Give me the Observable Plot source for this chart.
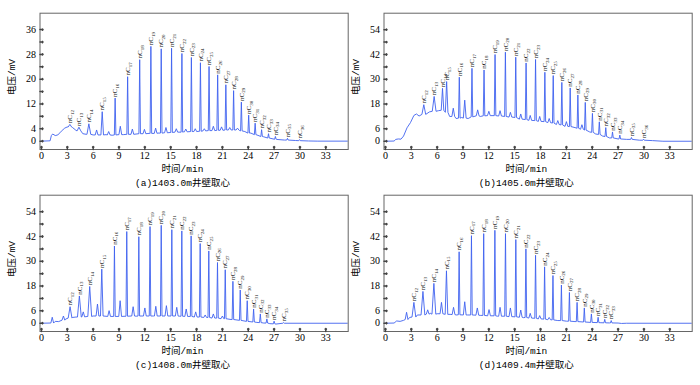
<!DOCTYPE html>
<html><head><meta charset="utf-8">
<script src="https://cdn.jsdelivr.net/npm/d3@7"></script>
<script src="https://cdn.jsdelivr.net/npm/@observablehq/plot@0.6"></script>
<style>
body{margin:0;background:#fff;}
#wrap{position:relative;width:700px;height:385px;overflow:hidden;background:#fff;}
.panel{position:absolute;}
.t{position:absolute;white-space:nowrap;transform:translate(-50%,-50%);font-size:9.5px;color:#000;line-height:1;}
.yt{transform:translate(-50%,-50%) rotate(-90deg);}
.cjk{font-family:"Noto Sans CJK SC";}
.lat{font-family:"Liberation Mono";}
</style></head><body><div id="wrap"></div>
<script>
// ---- shared ----
const xTicks = [0,3,6,9,12,15,18,21,24,27,30,33];
const aYTicks = [0,4,8,12,16,20,24,28,32,36];
const aYLabels = [0,4,12,20,28,36];
const bYTicks = [0,6,12,18,24,30,36,42,48,54];
const bYLabels = [0,6,18,30,42,54];
const captions = ["(a)1403.0m", "(b)1405.0m", "(c)1408.0m", "(d)1409.4m"];
const captionTail = "井壁取心";
const xTitle = ["时间", "/min"];
const yTitle = ["电压", "/mV"];

// ---- (a) 1403.0 m ----
const aHumpT = [0,1.0,1.15,1.3,1.6,1.9,2.3,2.7,3.0,3.6,4.0,4.8,5.2,6.0,6.8,7.5,8.2,9.5,10.5,11.5,12.5,13.5,14.5,15.5,16.5,17.5,18.5,19.5,20.5,21.5,22.3,23.0,23.6,24.3,25.0,25.8,26.5,27.3,28.2,29.5,31.0,32.0,35.6];
const aHumpV = [0,0.1,1.8,2.3,1.8,2.0,3.2,4.2,4.6,4.4,3.5,2.4,2.2,2.0,2.0,2.1,1.9,2.1,2.2,2.4,2.5,2.6,2.8,2.9,3.0,3.1,3.2,3.4,3.5,3.6,3.6,3.4,3.1,2.6,2.0,1.4,0.9,0.55,0.35,0.2,0.05,0,0];
const aPeakT = [3.3,4.35,5.5,7.05,8.55,10.0,11.4,12.7,13.9,15.1,16.3,17.4,18.45,19.45,20.45,21.4,22.3,23.2,24.05,24.8,25.55,26.35,27.15,28.55,29.95];
const aPeakH = [5.4,4.5,5.6,9.5,13.9,20.8,26.3,30.6,29.8,30.0,28.3,27.0,25.3,24.1,21.4,18.2,16.3,12.6,8.4,5.8,3.7,2.4,1.5,0.9,0.5];
const aPeakB = [4.5,3.3,2.2,2.0,2.0,2.2,2.4,2.5,2.6,2.8,2.9,3.1,3.2,3.4,3.5,3.6,3.6,3.3,2.6,2.1,1.5,1.0,0.6,0.35,0.15];
const aMinorT = [6.4,7.8,9.15,10.55,11.95,13.25,14.45,15.65,16.75,17.85,18.9,19.95,20.9,21.85,22.75];
const aMinorH = [3.6,3.1,4.8,3.9,3.8,4.2,4.4,4.0,3.9,4.0,4.0,4.8,4.6,4.4,4.2];
const aMinorB = [2.0,2.0,2.1,2.2,2.4,2.5,2.7,2.9,3.0,3.1,3.3,3.4,3.5,3.6,3.6];

// ---- (b) 1405.0 m ----
const bHumpT = [0,1.0,1.2,1.5,1.8,2.1,2.5,2.9,3.3,3.6,3.9,5.1,6.15,7.45,8.2,8.85,9.6,10.5,11.0,12.0,13.2,14.5,15.6,16.8,18.0,19.0,20.0,21.0,22.0,23.0,23.7,24.4,25.2,26.0,27.0,28.0,29.5,31.0,32.2,35.7];
const bHumpV = [0,0.1,0.9,1.1,1.0,2.5,6.5,9.0,12.5,13.2,12.2,14.2,14.8,12.0,11.0,11.5,11.0,12.5,12.0,12.5,12.3,11.8,10.8,10.2,9.7,9.2,8.2,7.3,6.6,5.6,4.5,3.5,2.5,1.6,1.1,0.9,0.5,0.3,0,0];
const bPeakT = [4.45,5.65,6.62,7.1,8.57,10.04,11.44,12.72,13.92,15.12,16.32,17.42,18.5,19.47,20.47,21.44,22.33,23.19,24.02,24.82,25.57,26.35,27.2,28.55,29.95];
const bPeakH = [17.7,21.7,25.6,28.9,31.0,35.3,34.5,42.0,43.1,40.7,37.9,39.6,33.4,31.8,28.5,25.8,22.4,18.8,13.5,9.4,6.6,4.5,3.0,1.8,1.0];
const bPeakB = [13.0,14.5,15.0,14.0,11.2,11.8,12.3,12.4,12.0,11.5,10.5,10.0,9.5,8.8,7.9,7.1,6.3,5.4,4.3,3.3,2.3,1.6,1.1,0.9,0.5];
const bMinorT = [7.87,9.2,10.7,12.0,13.3,14.5,15.7,16.8,17.9,19.0,20.0,21.0,22.8];
const bMinorH = [16.0,19.9,15.2,14.5,14.8,14.0,13.2,12.5,12.0,11.0,10.0,9.5,8.0];
const bMinorB = [12.0,11.2,12.3,12.4,12.2,11.7,10.7,10.1,9.6,9.0,8.1,7.2,5.8];

// ---- (c) 1408.0 m ----
const cHumpT = [0,1.0,1.6,2.0,2.8,3.6,4.0,5.0,6.0,7.0,8.0,9.0,10.0,11.0,12.0,13.0,14.0,15.0,16.0,17.0,18.0,19.0,20.0,21.0,22.0,23.0,24.0,25.0,25.8,26.5,27.2,27.8,28.5,35.7];
const cHumpV = [0,0.1,0.9,0.8,2.0,2.8,3.0,3.2,3.5,3.5,3.2,3.3,3.5,3.4,3.5,3.5,3.5,3.5,3.4,3.3,3.0,2.8,2.5,2.2,1.8,1.3,0.8,0.4,0.1,-0.2,-0.4,-0.1,0,0];
const cPeakT = [3.32,4.4,5.6,7.0,8.47,9.9,11.3,12.6,13.9,15.13,16.29,17.37,18.42,19.42,20.43,21.33,22.22,23.07,23.88,24.62,25.4,26.16,27.0,28.1];
const cPeakH = [8.0,13.2,17.8,26.2,37.4,44.4,41.9,46.8,47.4,45.3,44.7,42.3,38.6,35.0,29.4,25.9,20.3,16.1,10.9,6.9,4.5,2.1,1.0,0.3];
const cPeakB = [2.5,3.0,3.3,3.5,3.3,3.4,3.5,3.5,3.5,3.5,3.4,3.3,3.0,2.8,2.5,2.2,1.8,1.4,0.9,0.6,0.3,0.1,-0.3,0];
const cMinorT = [1.25,2.55,4.85,6.5,7.85,9.13,10.64,12.0,13.27,14.5,15.7,16.8,17.9,19.0,19.95,21.0];
const cMinorH = [2.9,3.5,5.5,9.3,6.1,10.9,8.0,7.4,8.2,8.5,7.7,6.9,5.5,4.0,4.5,3.5];
const cMinorB = [0.1,1.5,3.1,3.5,3.3,3.3,3.5,3.5,3.5,3.5,3.5,3.3,3.0,2.8,2.5,2.2];

// ---- (d) 1409.4 m ----
const dHumpT = [0,1.0,1.3,1.7,2.1,2.8,3.7,4.6,5.2,6.0,7.5,8.2,9.5,11.0,12.0,13.0,14.0,15.0,16.0,17.0,18.0,19.0,20.0,21.0,22.0,23.0,24.0,25.0,26.0,27.0,27.4,28.0,35.7];
const dHumpV = [0,0.1,1.1,0.9,1.4,2.8,4.0,4.3,4.8,4.6,4.3,4.0,4.0,3.8,3.6,3.4,3.2,3.0,2.7,2.3,1.9,1.6,1.3,1.0,0.8,0.6,0.4,0.25,0.15,0.1,-0.1,0,0];
const dPeakT = [3.3,4.35,5.62,7.08,8.55,9.98,11.4,12.7,13.93,15.13,16.3,17.42,18.47,19.44,20.42,21.35,22.24,23.08,23.9,24.68,25.45,26.2];
const dPeakH = [10.1,15.4,19.3,25.4,34.6,42.4,43.4,45.0,43.4,40.5,36.0,32.9,27.3,23.1,18.5,14.9,10.1,7.4,4.5,2.9,1.9,1.3];
const dPeakB = [3.0,4.0,4.4,4.3,4.1,4.0,3.8,3.6,3.4,3.1,2.8,2.4,2.0,1.6,1.3,1.0,0.8,0.6,0.4,0.3,0.2,0.15];
const dMinorT = [2.45,4.9,6.5,7.9,9.2,10.66,12.02,13.3,14.5,15.7,16.8,17.9,19.0];
const dMinorH = [5.3,6.5,10.1,7.7,10.4,7.4,6.6,7.7,7.4,6.4,4.8,3.7,2.8];
const dMinorB = [1.8,4.4,4.6,4.2,4.0,3.9,3.6,3.4,3.2,2.9,2.5,2.1,1.7];

const firstCarbon = 12;

const panels = [
  {left:0, top:0, humpT:aHumpT, humpV:aHumpV, pkT:aPeakT, pkH:aPeakH, pkB:aPeakB, mnT:aMinorT, mnH:aMinorH, mnB:aMinorB, yDomain:[-2.7,41.3], yTicks:aYTicks, yLabels:aYLabels, cap:captions[0]},
  {left:343.8, top:0, humpT:bHumpT, humpV:bHumpV, pkT:bPeakT, pkH:bPeakH, pkB:bPeakB, mnT:bMinorT, mnH:bMinorH, mnB:bMinorB, yDomain:[-4,62], yTicks:bYTicks, yLabels:bYLabels, cap:captions[1]},
  {left:0, top:182, humpT:cHumpT, humpV:cHumpV, pkT:cPeakT, pkH:cPeakH, pkB:cPeakB, mnT:cMinorT, mnH:cMinorH, mnB:cMinorB, yDomain:[-4,62], yTicks:bYTicks, yLabels:bYLabels, cap:captions[2]},
  {left:343.8, top:182, humpT:dHumpT, humpV:dHumpV, pkT:dPeakT, pkH:dPeakH, pkB:dPeakB, mnT:dMinorT, mnH:dMinorH, mnB:dMinorB, yDomain:[-4,62], yTicks:bYTicks, yLabels:bYLabels, cap:captions[3]}
];

const wrap = document.getElementById("wrap");
const halfWidth = t => t < 6 ? 0.22 : t < 7.5 ? 0.15 : 0.09;

function addText(html, x, y, cls) {
  const d = document.createElement("div");
  d.className = "t " + (cls || "");
  d.style.left = x + "px";
  d.style.top = y + "px";
  d.innerHTML = html;
  wrap.appendChild(d);
}

panels.forEach(p => {
  const peaks = p.pkT.map((t, i) => ({t, h: p.pkH[i], b: p.pkB[i], d: halfWidth(t)}));
  const minors = p.mnT.map((t, i) => ({t, h: p.mnH[i], b: p.mnB[i], d: 0.16}));
  const all = peaks.concat(minors);
  const pts = [];
  p.humpT.forEach((t, i) => {
    if (!all.some(q => Math.abs(q.t - t) < q.d + 0.06)) pts.push({t, v: p.humpV[i]});
  });
  all.forEach(q => {
    pts.push({t: q.t - q.d, v: q.b}, {t: q.t, v: q.h}, {t: q.t + q.d, v: q.b});
  });
  pts.sort((a, b) => a.t - b.t);
  const labels = peaks.map((q, i) => ({t: q.t, h: q.h, n: firstCarbon + i}));

  const svg = Plot.plot({
    width: 350, height: 165,
    marginLeft: 39.5, marginRight: 2.3, marginTop: 12.7, marginBottom: 16,
    x: {domain: [-0.17, 35.6]},
    y: {domain: p.yDomain},
    style: {background: "transparent", overflow: "visible"},
    marks: [
      Plot.line(pts, {x: "t", y: "v", stroke: "#3f62ef", strokeWidth: 0.9, clip: true}),
      Plot.text(labels, {x: "t", y: "h", text: d => "nC" + d.n, rotate: -90, textAnchor: "start", dy: -1.2, fontSize: 7, fill: "#111", fontFamily: "Liberation Serif"}),
      Plot.frame({stroke: "#666", strokeWidth: 1}),
      Plot.vector(xTicks, {x: d => d, frameAnchor: "bottom", length: 3, rotate: 0, anchor: "start", stroke: "#444"}),
      Plot.vector(p.yTicks, {y: d => d, frameAnchor: "left", length: 3, rotate: 90, anchor: "start", stroke: "#444"}),
      Plot.axisX(xTicks, {tickSize: 0, tickPadding: 2, fontSize: 10, fontFamily: "Liberation Serif", label: null, fill: "#000"}),
      Plot.axisY(p.yLabels, {tickSize: 0, tickPadding: 4, fontSize: 10, fontFamily: "Liberation Serif", label: null, fill: "#000"})
    ]
  });
  d3.select(svg).selectAll('g[aria-label="text"] text').each(function () {
    const m = this.textContent.match(/^nC(\d+)$/);
    if (m) {
      this.textContent = "nC";
      d3.select(this).append("tspan").attr("font-size", "5px").attr("dy", "0.35em").text(m[1]);
    }
  });
  const holder = document.createElement("div");
  holder.className = "panel";
  holder.style.left = p.left + "px";
  holder.style.top = p.top + "px";
  holder.appendChild(svg);
  wrap.appendChild(holder);

  addText('<span class="cjk">' + yTitle[0] + '</span><span class="lat">' + yTitle[1] + '</span>', p.left + 12, p.top + 77, "yt");
  addText('<span class="cjk">' + xTitle[0] + '</span><span class="lat">' + xTitle[1] + '</span>', p.left + 182.5, p.top + 168.5);
  addText('<span class="lat">' + p.cap + '</span><span class="cjk">' + captionTail + '</span>', p.left + 182.5, p.top + 183);
});
</script></body></html>
